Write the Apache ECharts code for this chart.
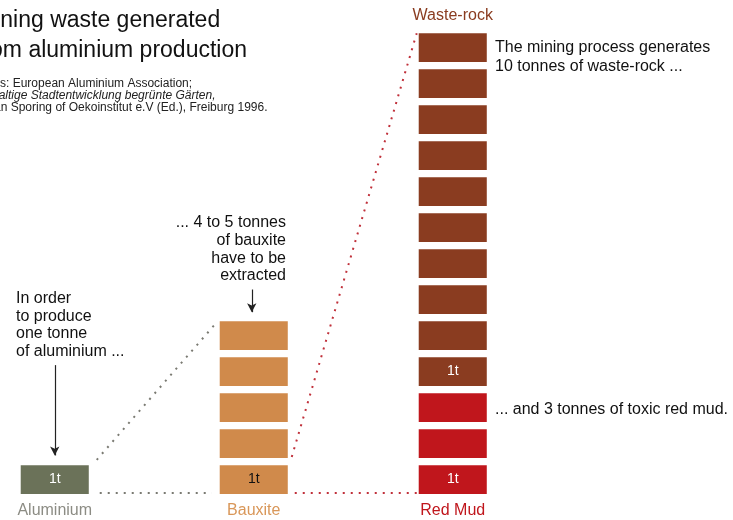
<!DOCTYPE html>
<html>
<head>
<meta charset="utf-8">
<style>
  html, body { margin: 0; padding: 0; background: #ffffff; }
  #chart { width: 733px; height: 520px; }
</style>
<script src="https://cdn.jsdelivr.net/npm/echarts@6/dist/echarts.min.js"></script>
</head>
<body>
<div id="chart"></div>
<script>
// Columns and the tonnes stacked in each of them
const categories = ['Aluminium', 'Bauxite', 'Red Mud'];
const aluminiumTonnes = 1;
const bauxiteTonnes = 5;
const redMudTonnes = 3;
const wasteRockTonnes = 10;
const unitLabel = '1t';

const FONT = '"Liberation Sans", Arial, Helvetica, sans-serif';
const BLOCK_W = 0.342;   // block width in x units
const BLOCK_H = 0.8;     // block height in tonnes (rest is the gap)
const HALF = BLOCK_W / 2;

const kinds = [
  { name: 'Aluminium', color: '#6b7259', text: '#ffffff' },
  { name: 'Bauxite', color: '#d08a4b', text: '#111111' },
  { name: 'Waste-rock', color: '#8a3c20', text: '#ffffff' },
  { name: 'Red Mud', color: '#c0161c', text: '#ffffff' }
];

// one block per tonne: [column, level, kind, labelled]
const blocks = [];
function addStack(col, start, count, kind) {
  for (let i = 0; i < count; i++) {
    blocks.push([col, start + i, kind, i === 0 ? 1 : 0]);
  }
}
addStack(0, 0, aluminiumTonnes, 0);
addStack(1, 0, bauxiteTonnes, 1);
addStack(2, 0, redMudTonnes, 3);
addStack(2, redMudTonnes, wasteRockTonnes, 2);

const redTotal = redMudTonnes + wasteRockTonnes;

function renderBlock(params, api) {
  const col = api.value(0);
  const level = api.value(1);
  const kind = kinds[api.value(2)];
  const labelled = api.value(3) === 1;
  const p0 = api.coord([col - HALF, level]);
  const p1 = api.coord([col + HALF, level + BLOCK_H]);
  const children = [{
    type: 'rect',
    shape: { x: p0[0], y: p1[1], width: p1[0] - p0[0], height: p0[1] - p1[1] },
    style: { fill: kind.color }
  }];
  if (labelled) {
    children.push({
      type: 'text',
      style: {
        text: unitLabel,
        x: (p0[0] + p1[0]) / 2,
        y: (p0[1] + p1[1]) / 2,
        align: 'center',
        verticalAlign: 'middle',
        fill: kind.text,
        font: '14px ' + FONT
      }
    });
  }
  return { type: 'group', children: children };
}

// column names under each stack, and the heading over the waste-rock
const columnLabels = [
  [0, -0.45, 'Aluminium', '#8c8c84'],
  [1, -0.45, 'Bauxite', '#d99759'],
  [2, -0.45, 'Red Mud', '#c0161c'],
  [2, redTotal + 0.3, 'Waste-rock', '#8a3c20']
];

function renderLabel(params, api) {
  const item = columnLabels[params.dataIndex];
  const p = api.coord([item[0], item[1]]);
  return {
    type: 'text',
    style: {
      text: item[2], x: p[0], y: p[1], align: 'center', verticalAlign: 'middle',
      fill: item[3], font: '16px ' + FONT
    }
  };
}

function dotted(points, color) {
  return {
    type: 'line',
    data: points,
    symbol: 'none',
    silent: true,
    lineStyle: { color: color, width: 2, type: [2, 6] },
    z: 1
  };
}

function arrow(x, from, to) {
  return [
    { coord: [x, from], symbol: 'none' },
    { coord: [x, to], symbol: 'arrow', symbolSize: [7, 9] }
  ];
}

const chart = echarts.init(document.getElementById('chart'), null, { renderer: 'canvas' });

chart.setOption({
  animation: false,
  backgroundColor: '#ffffff',
  grid: { left: 5, right: 31.5, top: 8, bottom: 26 },
  xAxis: { type: 'value', min: -0.25, max: 3.25, show: false },
  yAxis: { type: 'value', min: 0, max: 13.5, show: false },
  series: [
    {
      type: 'custom',
      renderItem: renderBlock,
      data: blocks,
      encode: { x: 0, y: 1 },
      z: 3
    },
    {
      type: 'custom',
      renderItem: renderLabel,
      data: columnLabels.map(d => [d[0], d[1]]),
      z: 3
    },
    // connectors from aluminium to bauxite
    dotted([[HALF + 0.04, aluminiumTonnes - 0.05], [1 - HALF - 0.01, bauxiteTonnes - 0.2]], '#7a7a72'),
    dotted([[HALF + 0.055, 0.03], [1 - HALF - 0.04, 0.03]], '#7a7a72'),
    // connectors from bauxite to the red mud / waste-rock stack
    dotted([[1 + HALF + 0.02, aluminiumTonnes + 0.03], [2 - HALF - 0.01, redTotal - 0.2]], '#c0303a'),
    dotted([[1 + HALF + 0.035, 0.03], [2 - HALF - 0.01, 0.03]], '#c0303a'),
    {
      type: 'line',
      data: [],
      markLine: {
        silent: true,
        animation: false,
        label: { show: false },
        lineStyle: { color: '#222222', width: 1.2, type: 'solid' },
        data: [
          arrow(0, 3.58, aluminiumTonnes + 0.07),
          arrow(0.99, bauxiteTonnes + 0.68, bauxiteTonnes + 0.05)
        ]
      }
    }
  ],
  graphic: [
    {
      type: 'text', left: -24, top: 6,
      style: {
        text: 'Mining waste generated\nfrom aluminium production',
        font: '23px ' + FONT, lineHeight: 30, fill: '#111111'
      }
    },
    {
      type: 'text', left: -38, top: 78,
      style: {
        text: 'Sources: European Aluminium Association;',
        font: '12px ' + FONT, fill: '#222222'
      }
    },
    {
      type: 'text', left: -36, top: 90,
      style: {
        text: 'Nachhaltige Stadtentwicklung begrünte Gärten,',
        font: 'italic 12px ' + FONT, fill: '#222222'
      }
    },
    {
      type: 'text', left: -40, top: 102,
      style: {
        text: 'Christian Sporing of Oekoinstitut e.V (Ed.), Freiburg 1996.',
        font: '12px ' + FONT, fill: '#222222'
      }
    },
    {
      type: 'text', left: 16, top: 290,
      style: {
        text: 'In order\nto produce\none tonne\nof aluminium ...',
        font: '16px ' + FONT, lineHeight: 17.5, fill: '#111111'
      }
    },
    {
      type: 'text', x: 286, y: 214,
      style: {
        text: '... 4 to 5 tonnes\nof bauxite\nhave to be\nextracted',
        font: '16px ' + FONT, lineHeight: 17.7, fill: '#111111', align: 'right'
      }
    },
    {
      type: 'text', left: 495, top: 38,
      style: {
        text: 'The mining process generates\n10 tonnes of waste-rock ...',
        font: '16px ' + FONT, lineHeight: 19, fill: '#111111'
      }
    },
    {
      type: 'text', left: 495, top: 402,
      style: {
        text: '... and 3 tonnes of toxic red mud.',
        font: '16px ' + FONT, fill: '#111111'
      }
    }
  ]
});
</script>
</body>
</html>
